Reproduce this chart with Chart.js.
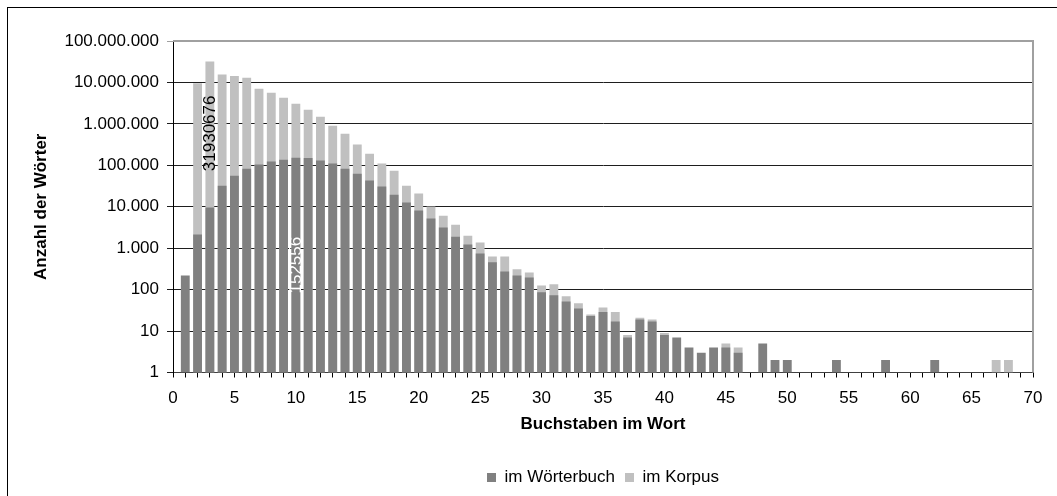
<!DOCTYPE html>
<html>
<head>
<meta charset="utf-8">
<script src="https://cdn.jsdelivr.net/npm/chart.js@4.4.1/dist/chart.umd.min.js"></script>
<style>
  html, body { margin: 0; padding: 0; background: #fff; overflow: hidden; }
</style>
</head>
<body>
<canvas id="chart" width="1057" height="496"></canvas>
<script>
// Wortlänge (Buchstaben im Wort)
const lengths = [1, 2, 3, 4, 5, 6, 7, 8, 9, 10, 11, 12, 13, 14, 15, 16, 17, 18, 19, 20,
  21, 22, 23, 24, 25, 26, 27, 28, 29, 30, 31, 32, 33, 34, 35, 36, 37, 38, 39, 40,
  41, 42, 43, 44, 45, 46, 47, 48, 49, 50, 51, 52, 53, 54, 55, 56, 57, 58, 59, 60,
  61, 62, 63, 64, 65, 66, 67, 68, 69];

// Anzahl verschiedener Wörter im Wörterbuch
const woerterbuch = [220, 2140, 9600, 32000, 56000, 83000, 104000, 123000, 137000, 152556,
  150000, 130000, 110000, 83000, 63000, 43000, 31000, 19600, 12600, 8100,
  5200, 3160, 1900, 1230, 745, 455, 275, 220, 197, 86,
  73, 52, 35, 23, 29, 17, 7, 19, 17, 8,
  7, 4, 3, 4, 4, 3, null, 5, 2, 2,
  null, null, null, 2, null, null, null, 2, null, null,
  null, 2, null, null, null, null, null, null, null];

// Anzahl der Wörter im Korpus
const korpus = [null, 9600000, 31930676, 15500000, 14400000, 12900000, 7000000, 5600000, 4300000, 3050000,
  2190000, 1480000, 900000, 576000, 316000, 191000, 110000, 74000, 32000, 20800,
  10100, 6100, 3700, 2000, 1370, 630, 630, 310, 260, 126,
  134, 69, 47, 25, 37, 29, 8, 21, 19, 9,
  null, null, null, null, 5, 4, null, null, null, null,
  null, null, null, null, null, null, null, null, null, null,
  null, null, null, null, null, null, 2, 2, null];

const yTicks = [1, 10, 100, 1000, 10000, 100000, 1000000, 10000000, 100000000];

const FONT = '"Liberation Sans", Arial, Helvetica, sans-serif';
Chart.defaults.font.family = FONT;
Chart.defaults.font.size = 17;
Chart.defaults.color = '#000';

function formatDe(v) {
  return String(v).replace(/\B(?=(\d{3})+(?!\d))/g, '.');
}

// white background, outer frame, plot border, data labels
const framePlugin = {
  id: 'frame',
  beforeDraw(chart) {
    const c = chart.ctx;
    c.save();
    c.fillStyle = '#fff';
    c.fillRect(0, 0, chart.width, chart.height);
    c.strokeStyle = '#000';
    c.lineWidth = 1;
    c.strokeRect(7.5, 7.5, chart.width + 40, chart.height + 40);
    c.restore();
  },
  afterDatasetsDraw(chart) {
    const c = chart.ctx;
    const a = chart.chartArea;
    c.save();
    c.strokeStyle = '#a0a0a0';
    c.lineWidth = 2;
    c.beginPath();
    c.moveTo(a.left, a.top);
    c.lineTo(a.right, a.top);
    c.lineTo(a.right, a.bottom);
    c.stroke();

    // rotated value labels
    const y = chart.scales.y;
    const x = chart.scales.x;
    const labels = [
      { ds: 1, idx: 2, at: 590000, color: '#000' },
      { ds: 0, idx: 9, at: 390, color: '#fff' }
    ];
    c.font = '17px ' + FONT;
    c.textAlign = 'center';
    c.textBaseline = 'middle';
    labels.forEach(l => {
      const val = chart.data.datasets[l.ds].data[l.idx];
      c.save();
      c.translate(x.getPixelForValue(val.x), y.getPixelForValue(l.at));
      c.rotate(-Math.PI / 2);
      c.fillStyle = l.color;
      c.fillText(String(val.y), 0, 0);
      c.restore();
    });
    c.restore();
  }
};

const ctx = document.getElementById('chart').getContext('2d');
new Chart(ctx, {
  type: 'bar',
  data: {
    datasets: [{
      label: 'im Wörterbuch',
      data: lengths.map((l, i) => ({ x: l, y: woerterbuch[i] })),
      backgroundColor: '#808080',
      borderWidth: 0
    }, {
      label: 'im Korpus',
      data: lengths.map((l, i) => ({ x: l, y: korpus[i] })),
      backgroundColor: '#c0c0c0',
      borderWidth: 0
    }]
  },
  options: {
    responsive: false,
    animation: false,
    devicePixelRatio: 1,
    grouped: false,
    barPercentage: 0.9,
    categoryPercentage: 0.8,
    layout: { padding: { left: 7, top: 41, right: 24, bottom: 0 } },
    plugins: {
      legend: {
        position: 'bottom',
        fullSize: false,
        labels: { boxWidth: 9, boxHeight: 9, padding: 10, font: { size: 17 }, color: '#000' }
      },
      tooltip: { enabled: false }
    },
    scales: {
      x: {
        type: 'linear',
        min: 0,
        max: 70,
        offset: false,
        grid: { offset: false, drawOnChartArea: false, tickLength: 5, color: '#000' },
        border: { color: '#404040', width: 1 },
        ticks: {
          stepSize: 1,
          autoSkip: false,
          maxRotation: 0,
          minRotation: 0,
          padding: 11,
          callback: v => (v % 5 === 0 ? String(v) : '')
        },
        title: {
          display: true,
          text: 'Buchstaben im Wort',
          font: { size: 17, weight: 'bold' },
          padding: { top: 0, bottom: 24 }
        },
        afterFit: s => { s.height = 86.5; }
      },
      y: {
        type: 'logarithmic',
        min: 1,
        max: 100000000,
        grid: {
          tickLength: 6,
          color: c => (c.tick && c.tick.value === 100000000 ? '#a0a0a0' : '#1e1e1e')
        },
        border: { color: '#000', width: 1 },
        ticks: {
          autoSkip: false,
          padding: 8,
          callback: v => formatDe(v)
        },
        afterBuildTicks: s => { s.ticks = yTicks.map(v => ({ value: v })); },
        title: {
          display: true,
          text: 'Anzahl der Wörter',
          font: { size: 17, weight: 'bold' },
          padding: { top: 24, bottom: 0 }
        },
        afterFit: s => { s.width = 166; }
      }
    }
  },
  plugins: [framePlugin]
});
</script>
</body>
</html>
